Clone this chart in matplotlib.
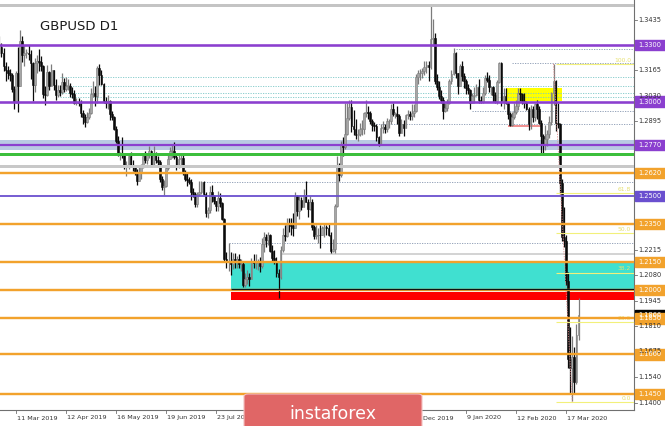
import matplotlib
matplotlib.use("Agg")
import matplotlib.pyplot as plt
import matplotlib.transforms as mtransforms
from matplotlib.patches import Rectangle, FancyBboxPatch
import numpy as np
import pandas as pd

# GBPUSD daily bars, 27 Feb 2019 .. 25 Mar 2020 (no bars on 25 Dec and 1 Jan)
opens = [
    1.3255, 1.3290,
    1.3260, 1.3190, 1.3170, 1.3150, 1.3140, 1.3065, 1.3000, 1.3150, 1.3080, 1.3320, 1.3245, 1.3260, 1.3260, 1.3250, 1.3205, 1.3090, 1.3205, 1.3215, 1.3210, 1.3190, 1.3040,
    1.3035, 1.3155, 1.3085, 1.3165, 1.3090, 1.3035, 1.3060, 1.3050, 1.3105, 1.3065, 1.3085, 1.3085, 1.3045, 1.3040, 1.2995, 1.3000, 1.2995, 1.2940, 1.2920, 1.2890, 1.2920, 1.2940,
    1.3040, 1.3045, 1.3030, 1.3180, 1.3140, 1.3095, 1.3005, 1.2995, 1.3005, 1.2935, 1.2920, 1.2855, 1.2790, 1.2720, 1.2720, 1.2715, 1.2655, 1.2655, 1.2710, 1.2665, 1.2660, 1.2625, 1.2580,
    1.2625, 1.2660, 1.2710, 1.2690, 1.2720, 1.2740, 1.2665, 1.2725, 1.2690, 1.2680, 1.2590, 1.2545, 1.2555, 1.2650, 1.2695, 1.2740, 1.2740, 1.2705, 1.2665, 1.2695,
    1.2700, 1.2620, 1.2590, 1.2585, 1.2575, 1.2520, 1.2510, 1.2455, 1.2510, 1.2520, 1.2575, 1.2510, 1.2410, 1.2425, 1.2520, 1.2500, 1.2475, 1.2445, 1.2490, 1.2460, 1.2380, 1.2165, 1.2150,
    1.2150, 1.2140, 1.2165, 1.2150, 1.2165, 1.2140, 1.2140, 1.2030, 1.2060, 1.2070, 1.2060, 1.2150, 1.2145, 1.2145, 1.2150, 1.2130, 1.2245, 1.2280, 1.2265, 1.2290, 1.2210, 1.2170,
    1.2155, 1.2090, 1.2070, 1.2215, 1.2295, 1.2285, 1.2355, 1.2350, 1.2340, 1.2330, 1.2500, 1.2420, 1.2480, 1.2440, 1.2505, 1.2470, 1.2430, 1.2470, 1.2335, 1.2285, 1.2290,
    1.2295, 1.2290, 1.2330, 1.2335, 1.2330, 1.2295, 1.2210, 1.2220, 1.2445, 1.2665, 1.2610, 1.2770, 1.2760, 1.2830, 1.2915, 1.2970, 1.2870, 1.2855, 1.2825, 1.2830, 1.2855, 1.2855, 1.2940,
    1.2945, 1.2940, 1.2895, 1.2875, 1.2870, 1.2810, 1.2770, 1.2860, 1.2865, 1.2855, 1.2895, 1.2895, 1.2960, 1.2935, 1.2935, 1.2925, 1.2835, 1.2880, 1.2860, 1.2930, 1.2935,
    1.2925, 1.2940, 1.2950, 1.3130, 1.3150, 1.3150, 1.3160, 1.3185, 1.3195, 1.3185, 1.3330, 1.3335, 1.3110, 1.3075, 1.3030, 1.3010, 1.2950, 1.2965, 1.2995, 1.3110, 1.3145,
    1.3255, 1.3150, 1.3080, 1.3190, 1.3135, 1.3110, 1.3070, 1.3060, 1.2995, 1.3030, 1.3035, 1.3075, 1.3010, 1.3000, 1.3045, 1.3125, 1.3115, 1.3075, 1.3075, 1.3035, 1.3005, 1.3105,
    1.3205, 1.3005, 1.3030, 1.2995, 1.2935, 1.2875, 1.2920, 1.2945, 1.2975, 1.3045, 1.3040, 1.3005, 1.2990, 1.2960, 1.2880, 1.2960, 1.2920, 1.2985, 1.2960, 1.2885,
    1.2815, 1.2775, 1.2800, 1.2830, 1.2890, 1.3045, 1.3110, 1.2885, 1.2880, 1.2570, 1.2280, 1.2260, 1.2050, 1.1635, 1.1585, 1.1645, 1.1515, 1.1765,
]
highs = [
    1.3350, 1.3310,
    1.3285, 1.3210, 1.3190, 1.3175, 1.3150, 1.3080, 1.3160, 1.3290, 1.3380, 1.3350, 1.3300, 1.3280, 1.3300, 1.3275, 1.3210, 1.3230, 1.3245, 1.3280, 1.3240, 1.3195, 1.3080,
    1.3195, 1.3160, 1.3200, 1.3170, 1.3120, 1.3090, 1.3090, 1.3150, 1.3125, 1.3130, 1.3120, 1.3100, 1.3075, 1.3060, 1.3020, 1.3020, 1.3010, 1.2955, 1.2935, 1.2945, 1.2965, 1.3070,
    1.3110, 1.3080, 1.3190, 1.3200, 1.3165, 1.3100, 1.3025, 1.3035, 1.3010, 1.2950, 1.2925, 1.2870, 1.2815, 1.2735, 1.2810, 1.2720, 1.2685, 1.2730, 1.2735, 1.2690, 1.2665, 1.2645, 1.2660,
    1.2670, 1.2730, 1.2740, 1.2730, 1.2765, 1.2745, 1.2765, 1.2735, 1.2710, 1.2690, 1.2605, 1.2585, 1.2665, 1.2730, 1.2760, 1.2770, 1.2785, 1.2715, 1.2720, 1.2725,
    1.2730, 1.2635, 1.2625, 1.2600, 1.2590, 1.2540, 1.2520, 1.2520, 1.2580, 1.2580, 1.2580, 1.2520, 1.2440, 1.2555, 1.2560, 1.2505, 1.2475, 1.2525, 1.2515, 1.2465, 1.2385, 1.2205, 1.2250,
    1.2205, 1.2195, 1.2195, 1.2180, 1.2190, 1.2165, 1.2150, 1.2090, 1.2105, 1.2090, 1.2170, 1.2190, 1.2190, 1.2165, 1.2175, 1.2275, 1.2310, 1.2300, 1.2310, 1.2300, 1.2240, 1.2215,
    1.2175, 1.2110, 1.2235, 1.2330, 1.2345, 1.2385, 1.2385, 1.2385, 1.2410, 1.2520, 1.2505, 1.2500, 1.2495, 1.2535, 1.2580, 1.2485, 1.2500, 1.2485, 1.2345, 1.2345, 1.2330,
    1.2345, 1.2340, 1.2350, 1.2345, 1.2355, 1.2310, 1.2270, 1.2455, 1.2710, 1.2675, 1.2790, 1.2810, 1.2990, 1.2990, 1.3010, 1.3010, 1.2955, 1.2905, 1.2855, 1.2885, 1.2900, 1.2945, 1.3010,
    1.2975, 1.2950, 1.2905, 1.2890, 1.2880, 1.2815, 1.2880, 1.2895, 1.2880, 1.2915, 1.2910, 1.2985, 1.2990, 1.2945, 1.2975, 1.2935, 1.2905, 1.2900, 1.2935, 1.2955, 1.2950,
    1.2985, 1.2985, 1.3145, 1.3165, 1.3175, 1.3180, 1.3215, 1.3215, 1.3215, 1.3515, 1.3440, 1.3365, 1.3145, 1.3110, 1.3060, 1.3025, 1.2995, 1.3015, 1.3120, 1.3165, 1.3285,
    1.3265, 1.3150, 1.3200, 1.3215, 1.3150, 1.3120, 1.3095, 1.3065, 1.3045, 1.3075, 1.3095, 1.3120, 1.3030, 1.3075, 1.3140, 1.3155, 1.3140, 1.3085, 1.3085, 1.3050, 1.3115, 1.3210,
    1.3210, 1.3070, 1.3070, 1.3000, 1.2945, 1.2945, 1.2990, 1.3010, 1.3070, 1.3070, 1.3045, 1.3045, 1.3005, 1.2970, 1.2980, 1.2975, 1.2990, 1.3010, 1.2975, 1.2900,
    1.2830, 1.2875, 1.2850, 1.2925, 1.3050, 1.3200, 1.3115, 1.2990, 1.2885, 1.2590, 1.2440, 1.2295, 1.2095, 1.1805, 1.1755, 1.1700, 1.1820, 1.1960,
]
lows = [
    1.3240, 1.3235,
    1.3160, 1.3110, 1.3120, 1.3110, 1.3050, 1.2960, 1.2990, 1.2945, 1.3080, 1.3210, 1.3190, 1.3230, 1.3220, 1.3120, 1.3005, 1.3050, 1.3150, 1.3160, 1.3160, 1.3020, 1.2980,
    1.3030, 1.3060, 1.3080, 1.3060, 1.3010, 1.3025, 1.3030, 1.3040, 1.3050, 1.3055, 1.3060, 1.3025, 1.3020, 1.2985, 1.2980, 1.2975, 1.2920, 1.2880, 1.2865, 1.2885, 1.2905, 1.2935,
    1.3025, 1.2975, 1.2990, 1.3090, 1.3090, 1.2990, 1.2965, 1.2960, 1.2900, 1.2900, 1.2850, 1.2780, 1.2710, 1.2690, 1.2700, 1.2640, 1.2605, 1.2640, 1.2655, 1.2630, 1.2610, 1.2560, 1.2580,
    1.2590, 1.2650, 1.2675, 1.2670, 1.2700, 1.2655, 1.2655, 1.2675, 1.2660, 1.2575, 1.2530, 1.2505, 1.2545, 1.2635, 1.2695, 1.2700, 1.2695, 1.2635, 1.2650, 1.2665,
    1.2610, 1.2580, 1.2555, 1.2565, 1.2480, 1.2495, 1.2440, 1.2440, 1.2500, 1.2510, 1.2505, 1.2390, 1.2385, 1.2410, 1.2465, 1.2455, 1.2420, 1.2420, 1.2440, 1.2370, 1.2155, 1.2120, 1.2100,
    1.2080, 1.2110, 1.2115, 1.2120, 1.2115, 1.2100, 1.2015, 1.2015, 1.2035, 1.2020, 1.2060, 1.2120, 1.2110, 1.2105, 1.2095, 1.2120, 1.2200, 1.2230, 1.2240, 1.2200, 1.2150, 1.2140,
    1.2070, 1.1960, 1.2060, 1.2200, 1.2260, 1.2280, 1.2310, 1.2290, 1.2285, 1.2330, 1.2395, 1.2380, 1.2425, 1.2440, 1.2465, 1.2390, 1.2425, 1.2320, 1.2270, 1.2270, 1.2250,
    1.2225, 1.2290, 1.2280, 1.2295, 1.2285, 1.2195, 1.2205, 1.2195, 1.2440, 1.2580, 1.2600, 1.2710, 1.2750, 1.2825, 1.2900, 1.2840, 1.2825, 1.2800, 1.2790, 1.2815, 1.2825, 1.2830, 1.2920,
    1.2905, 1.2880, 1.2845, 1.2845, 1.2790, 1.2765, 1.2770, 1.2835, 1.2835, 1.2840, 1.2860, 1.2880, 1.2925, 1.2915, 1.2880, 1.2820, 1.2835, 1.2820, 1.2860, 1.2905, 1.2900,
    1.2900, 1.2920, 1.2945, 1.3095, 1.3115, 1.3125, 1.3140, 1.3150, 1.3110, 1.3175, 1.3295, 1.3095, 1.3060, 1.3015, 1.2995, 1.2905, 1.2945, 1.2950, 1.2985, 1.3095, 1.3140,
    1.3125, 1.3040, 1.3080, 1.3110, 1.3070, 1.3040, 1.3040, 1.2960, 1.2990, 1.2990, 1.3030, 1.2990, 1.2990, 1.2995, 1.3035, 1.3105, 1.3050, 1.3035, 1.3000, 1.2990, 1.2985, 1.3100,
    1.2975, 1.2960, 1.2985, 1.2910, 1.2870, 1.2870, 1.2905, 1.2935, 1.2955, 1.3005, 1.2985, 1.2965, 1.2955, 1.2850, 1.2855, 1.2890, 1.2895, 1.2910, 1.2880, 1.2725,
    1.2725, 1.2745, 1.2765, 1.2805, 1.2875, 1.2980, 1.2845, 1.2860, 1.2510, 1.2260, 1.2230, 1.2030, 1.1590, 1.1450, 1.1410, 1.1450, 1.1500, 1.1735,
]
closes = [
    1.3290, 1.3260,
    1.3190, 1.3170, 1.3150, 1.3140, 1.3065, 1.3000, 1.3150, 1.3080, 1.3320, 1.3245, 1.3260, 1.3260, 1.3250, 1.3205, 1.3090, 1.3205, 1.3215, 1.3210, 1.3190, 1.3040, 1.3035,
    1.3155, 1.3085, 1.3165, 1.3090, 1.3035, 1.3060, 1.3050, 1.3105, 1.3065, 1.3085, 1.3085, 1.3045, 1.3040, 1.2995, 1.3000, 1.2995, 1.2940, 1.2920, 1.2890, 1.2920, 1.2940, 1.3040,
    1.3045, 1.3030, 1.3180, 1.3140, 1.3095, 1.3005, 1.2995, 1.3005, 1.2935, 1.2920, 1.2855, 1.2790, 1.2720, 1.2720, 1.2715, 1.2655, 1.2655, 1.2710, 1.2665, 1.2660, 1.2625, 1.2580, 1.2625,
    1.2660, 1.2710, 1.2690, 1.2720, 1.2740, 1.2665, 1.2725, 1.2690, 1.2680, 1.2590, 1.2545, 1.2555, 1.2650, 1.2695, 1.2740, 1.2740, 1.2705, 1.2665, 1.2695, 1.2700,
    1.2620, 1.2590, 1.2585, 1.2575, 1.2520, 1.2510, 1.2455, 1.2510, 1.2520, 1.2575, 1.2510, 1.2410, 1.2425, 1.2520, 1.2500, 1.2475, 1.2445, 1.2490, 1.2460, 1.2380, 1.2165, 1.2150, 1.2150,
    1.2140, 1.2165, 1.2150, 1.2165, 1.2140, 1.2140, 1.2030, 1.2060, 1.2070, 1.2060, 1.2150, 1.2145, 1.2145, 1.2150, 1.2130, 1.2245, 1.2280, 1.2265, 1.2290, 1.2210, 1.2170, 1.2155,
    1.2090, 1.2070, 1.2215, 1.2295, 1.2285, 1.2355, 1.2350, 1.2340, 1.2330, 1.2500, 1.2420, 1.2480, 1.2440, 1.2505, 1.2470, 1.2430, 1.2470, 1.2335, 1.2285, 1.2290, 1.2295,
    1.2290, 1.2330, 1.2335, 1.2330, 1.2295, 1.2210, 1.2220, 1.2445, 1.2665, 1.2610, 1.2770, 1.2760, 1.2830, 1.2915, 1.2970, 1.2870, 1.2855, 1.2825, 1.2830, 1.2855, 1.2855, 1.2940, 1.2945,
    1.2940, 1.2895, 1.2875, 1.2870, 1.2810, 1.2770, 1.2860, 1.2865, 1.2855, 1.2895, 1.2895, 1.2960, 1.2935, 1.2935, 1.2925, 1.2835, 1.2880, 1.2860, 1.2930, 1.2935, 1.2925,
    1.2940, 1.2950, 1.3130, 1.3150, 1.3150, 1.3160, 1.3185, 1.3195, 1.3185, 1.3330, 1.3335, 1.3110, 1.3075, 1.3030, 1.3010, 1.2950, 1.2965, 1.2995, 1.3110, 1.3145, 1.3255,
    1.3150, 1.3080, 1.3190, 1.3135, 1.3110, 1.3070, 1.3060, 1.2995, 1.3030, 1.3035, 1.3075, 1.3010, 1.3000, 1.3045, 1.3125, 1.3115, 1.3075, 1.3075, 1.3035, 1.3005, 1.3105, 1.3205,
    1.3005, 1.3030, 1.2995, 1.2935, 1.2875, 1.2920, 1.2945, 1.2975, 1.3045, 1.3040, 1.3005, 1.2990, 1.2960, 1.2880, 1.2960, 1.2920, 1.2985, 1.2960, 1.2885, 1.2815,
    1.2775, 1.2800, 1.2830, 1.2890, 1.3045, 1.3110, 1.2885, 1.2880, 1.2570, 1.2280, 1.2260, 1.2050, 1.1635, 1.1585, 1.1645, 1.1515, 1.1765, 1.1866,
]

# horizontal levels drawn over the full width
full_levels = [1.3512, 1.3300, 1.3000, 1.2770, 1.2722, 1.2658, 1.2620, 1.2500, 1.2350, 1.2150, 1.2000, 1.1850, 1.1660, 1.1450]
# price tags on the right scale
tag_levels = [1.3300, 1.3000, 1.2770, 1.2620, 1.2500, 1.2350, 1.2150, 1.2000, 1.1850, 1.1660, 1.1450]
current_price = 1.1866
scale_ticks = [1.3435, 1.3165, 1.3030, 1.2895, 1.2215, 1.2080, 1.1945, 1.1810, 1.1675, 1.1540, 1.1400]
# time scale labels (26 Aug, 27 Sep, 31 Oct fall under the watermark)
date_ticks = ["2019-03-11", "2019-04-12", "2019-05-16", "2019-06-19", "2019-07-23",
              "2019-12-04", "2020-01-09", "2020-02-12", "2020-03-17"]
date_labels = ["11 Mar 2019", "12 Apr 2019", "16 May 2019", "19 Jun 2019", "23 Jul 2019",
               "4 Dec 2019", "9 Jan 2020", "12 Feb 2020", "17 Mar 2020"]

# dotted levels starting at a given day
dotted_levels = [1.3278, 1.3205, 1.2952, 1.2881, 1.2574, 1.2250]
dotted_starts = ["2020-01-02", "2020-02-10", "2020-01-14", "2019-11-07", "2019-07-15", "2019-07-31"]
teal_levels = [1.3130, 1.3083, 1.3045, 1.3024]
teal_start = "2019-04-09"

# fibonacci retracement of the March 2020 drop
fib_high, fib_low = 1.3200, 1.1409
fib_pcts = [100.0, 61.8, 50.0, 38.2, 23.6, 0.0]

dates = pd.bdate_range("2019-02-27", "2020-03-25")
dates = dates[~dates.isin(pd.to_datetime(["2019-12-25", "2020-01-01"]))]
assert len(dates) == len(opens) == len(highs) == len(lows) == len(closes)


def xi(d):
    return dates.get_loc(pd.Timestamp(d))


W, H = 665, 426
fig = plt.figure(figsize=(W / 100, H / 100), dpi=100)
fig.patch.set_facecolor("white")
ax = fig.add_axes([0, 16 / H, 634 / W, 410 / H])

px_per_bar = 50 / 24
i0 = xi("2019-03-11")
ax.set_xlim(i0 - 16 / px_per_bar, i0 + (634 - 16) / px_per_bar)
ax.set_ylim(1.33 - 365 / 1886, 1.33 + 45 / 1886)
ax.set_xticks([])
ax.set_yticks([])
for s in ["left", "top"]:
    ax.spines[s].set_visible(False)
for s in ["right", "bottom"]:
    ax.spines[s].set_color("#707070")
    ax.spines[s].set_linewidth(0.8)

x = np.arange(len(dates))
xr = ax.get_xlim()[1]

PURPLE = "#8b3fcf"
SLATE = "#6a4fcf"
ORANGE = "#f2a22c"

# zones (behind candles)
ax.axhspan(1.2743, 1.2796, color="#b9c9e3", zorder=1, lw=0)
ax.add_patch(Rectangle((xi("2019-08-01"), 1.2008), xr - xi("2019-08-01"), 1.2145 - 1.2008,
                       color="#40e0d0", lw=0, zorder=1))
ax.add_patch(Rectangle((xi("2019-08-01"), 1.1948), xr - xi("2019-08-01"), 1.1990 - 1.1948,
                       color="#ff0000", lw=0, zorder=1))
ax.add_patch(Rectangle((xi("2020-02-05"), 1.3003), xi("2020-03-13") - xi("2020-02-05"), 1.3072 - 1.3003,
                       color="#ffff00", lw=0, zorder=1))

# dotted guide lines
for p, d in zip(dotted_levels, dotted_starts):
    ax.hlines(p, xi(d), xr, color="#8696b0", lw=0.6, ls=(0, (1.5, 1.5)), zorder=1.5)
for p in teal_levels:
    ax.hlines(p, xi(teal_start), xr, color="#7cc8c8", lw=0.6, ls=(0, (1.5, 1.5)), zorder=1.5)
ax.hlines(1.3514, xi("2019-12-13"), xr, color="#8696b0", lw=0.6, ls=(0, (1.5, 1.5)), zorder=1.5)
ax.hlines(1.2192, xi("2019-09-04"), xr, color="#c8c8c8", lw=1.1, zorder=1.5)
ax.hlines(1.2871, xi("2020-02-06"), xi("2020-02-28"), color="#ee7b7b", lw=1.2, zorder=1.5)

# candles
bull = np.array(closes) >= np.array(opens)
cols = np.where(bull, "#7c7c7c", "#0a0a0a")
ax.vlines(x, lows, highs, colors=cols, lw=0.9, zorder=3)
body = np.array(closes) - np.array(opens)
body = np.where(np.abs(body) < 0.0004, 0.0004, body)
ax.bar(x, body, bottom=opens, width=0.85, color=np.where(bull, "#a6a6a6", "#0a0a0a"),
       edgecolor=cols, lw=0.4, zorder=3)

# fibonacci levels
fx = xi("2020-03-10")
for pct in fib_pcts:
    p = fib_low + pct / 100 * (fib_high - fib_low)
    ax.hlines(p, fx, xr, color="#f2f07a", lw=0.8, zorder=4)
    ax.text(xr - 1.5, p + 0.0006, f"{pct:.1f}", color="#e6e070", fontsize=4.3,
            ha="right", va="bottom", zorder=4)
ax.plot([xi("2020-03-09"), xi("2020-03-20")], [fib_high, fib_low], color="#e08a8a",
        lw=0.6, ls=(0, (1.5, 1.5)), zorder=4)

# full width levels
styles = {1.3512: ("#c4c4c4", 3.0), 1.3300: (PURPLE, 2.6), 1.3000: (PURPLE, 2.6),
          1.2770: (PURPLE, 2.2), 1.2722: ("#3cbf3c", 3.0), 1.2658: ("#c8c8c8", 3.0),
          1.2500: (SLATE, 1.8)}
for p in full_levels:
    c, w = styles.get(p, (ORANGE, 2.4))
    ax.axhline(p, color=c, lw=w * 0.72, zorder=5)
ax.hlines(1.2006, xi("2019-08-01"), xr, color="#111111", lw=0.9, zorder=5)

# right price scale
trans = mtransforms.blended_transform_factory(fig.transFigure, ax.transData)
for p in scale_ticks:
    fig.text(638 / W, p, f"{p:.4f}", transform=trans, fontsize=4.8, color="#333333", va="center")
    ax.plot([634 / W, 637 / W], [p, p], transform=trans, color="#707070", lw=0.6, clip_on=False)

half = 5.2 / 1886
ax.add_patch(Rectangle((635 / W, current_price - half), 30 / W, 2 * half, transform=trans,
                       color="#000000", clip_on=False, zorder=6))
fig.text(638 / W, current_price, f"{current_price:.4f}", transform=trans, fontsize=4.8,
         color="white", va="center", zorder=7)
for p in tag_levels:
    c = PURPLE if p in (1.3300, 1.3000, 1.2770) else (SLATE if p == 1.2500 else ORANGE)
    ax.add_patch(Rectangle((635 / W, p - half), 30 / W, 2 * half, transform=trans,
                           color=c, clip_on=False, zorder=8))
    fig.text(638 / W, p, f"{p:.4f}", transform=trans, fontsize=4.8, color="white",
             va="center", zorder=9)

# time scale
tx = mtransforms.blended_transform_factory(ax.transData, fig.transFigure)
for d, lab in zip(date_ticks, date_labels):
    xp = xi(d)
    ax.plot([xp, xp], [16 / H, 13 / H], transform=tx, color="#707070", lw=0.6, clip_on=False)
    fig.text(xp + 0.6, 8 / H, lab, transform=tx, fontsize=4.6, color="#333333", va="center")

fig.text(40 / W, 1 - 27 / H, "GBPUSD D1", fontsize=9.5, color="#1a1a1a", va="center")

# watermark
wm = FancyBboxPatch((244 / W, -10 / H), 178 / W, 42 / H, boxstyle="round,pad=0,rounding_size=0.006",
                    transform=fig.transFigure, fc="#e06666", ec="#f3c0c0", lw=0.8, zorder=20)
fig.patches.append(wm)
fig.text(333 / W, 12 / H, "instaforex", fontsize=12.5, color="white", ha="center", va="center", zorder=21)

fig.savefig("out.png", dpi=100)
